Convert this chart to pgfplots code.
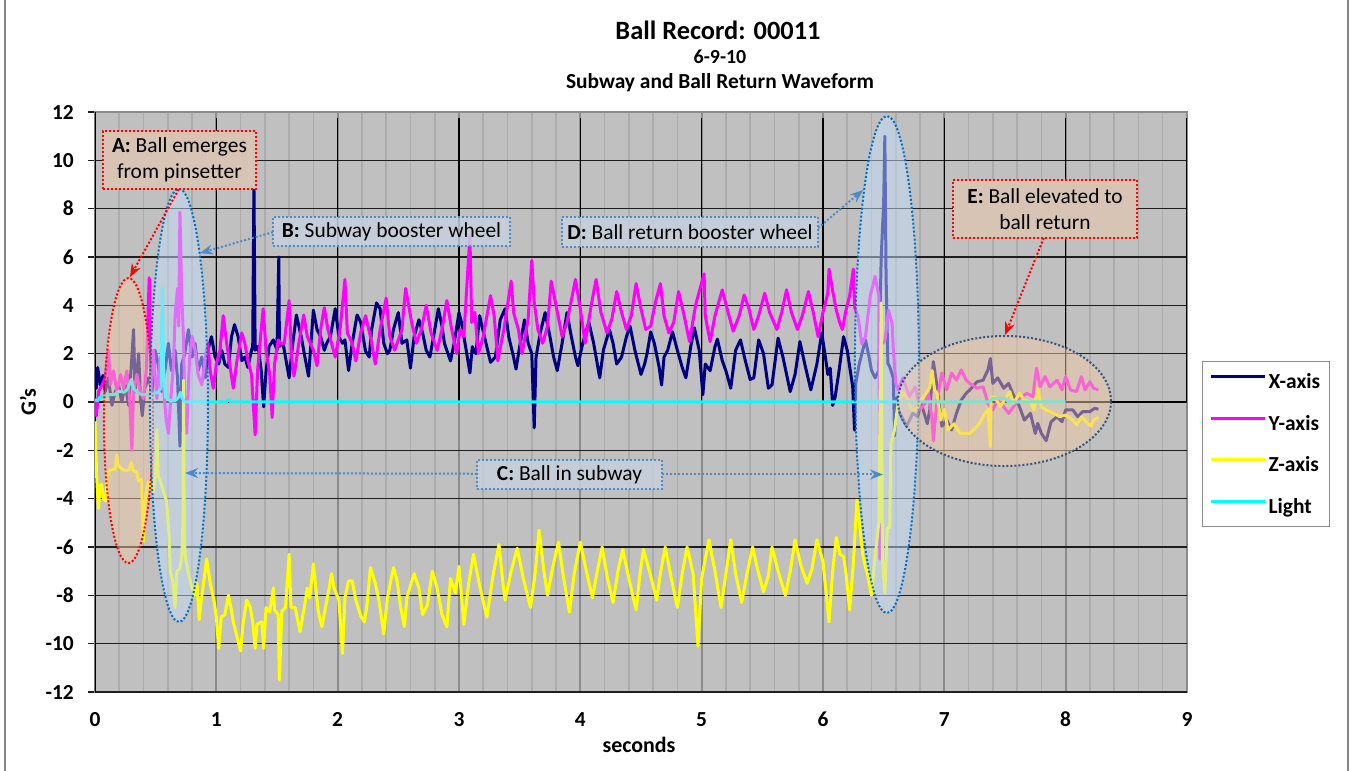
\documentclass[border=0pt]{standalone}
\usepackage{pgfplots}
\pgfplotsset{compat=1.18}
\usepackage{fontspec}
\setmainfont{Carlito}
\usetikzlibrary{arrows.meta}
\definecolor{bggray}{RGB}{192,192,192}
\definecolor{vgrid}{RGB}{140,140,140}
\definecolor{minx}{RGB}{172,172,172}
\definecolor{majy}{RGB}{30,30,30}
\definecolor{xnavy}{RGB}{0,0,128}
\definecolor{ymag}{RGB}{255,0,255}
\definecolor{zyel}{RGB}{255,255,0}
\definecolor{lcyan}{RGB}{0,255,255}
\definecolor{peach}{RGB}{240,200,168}
\definecolor{lblue}{RGB}{196,220,248}
\definecolor{boxpeach}{RGB}{216,196,180}
\definecolor{boxblue}{RGB}{197,208,221}
\definecolor{dotblue}{RGB}{0,112,192}
\definecolor{dotlblue}{RGB}{79,138,200}
\definecolor{dotdark}{RGB}{50,85,130}
\definecolor{framegray}{RGB}{134,134,134}
\tikzset{dotln/.style={line width=2bp, dash pattern=on 2bp off 2bp},
  fnt/.style={font=\fontsize{21.5}{26}\selectfont}}
\begin{document}
\begin{tikzpicture}[x=1bp,y=1bp]
\path[use as bounding box] (-95,-78) rectangle (1256,692);
\draw[framegray, line width=1.5bp] (-90,-80) -- (-90,700);
\draw[framegray, line width=1.5bp] (1253,-80) -- (1253,700);
\begin{axis}[
  at={(0,0)}, anchor=south west,
  scale only axis, width=1092bp, height=580bp,
  xmin=0, xmax=9, ymin=-12, ymax=12,
  axis background/.style={fill=bggray},
  xtick={0,1,...,9}, xticklabels={0,1,2,3,4,5,6,7,8,9},
  minor x tick num=4,
  ytick={-12,-10,...,12}, yticklabels={-12,-10,-8,-6,-4,-2,0,2,4,6,8,10,12},
  xmajorgrids=false, xminorgrids, ymajorgrids=false,
  minor grid style={draw=minx, line width=1.6bp},
  xtick style={draw=none}, minor tick style={draw=none},
  ytick pos=left, ytick align=outside, major tick length=7bp,
  ytick style={draw=majy, line width=1.5bp},
  axis line style={draw=vgrid, line width=2bp},
  ticklabel style={font=\bfseries\fontsize{21.5}{26}\selectfont, inner sep=0bp},
  yticklabel style={anchor=east, xshift=-14bp},
  xticklabel style={anchor=north, yshift=-20bp},
  no markers,
  every axis plot/.append style={line width=3bp, line join=round},
  legend style={at={(1.0137,0.5707)}, anchor=north west, draw=vgrid, line width=1.2bp,
    fill=white, font=\bfseries\fontsize{21.5}{26}\selectfont,
    inner xsep=7bp, inner ysep=10bp, row sep=21bp, cells={anchor=west},
    nodes={inner sep=2bp}},
  legend image code/.code={\draw[#1, line width=3bp] (0bp,5bp) -- (54bp,5bp);},
]
\pgfplotsinvokeforeach{1,2,3,4,5,6,7,8}{\draw[draw=vgrid, line width=2bp] (axis cs:#1,-12) -- (axis cs:#1,12);}
\pgfplotsinvokeforeach{-10,-8,-6,-4,-2,2,4,6,8,10}{\draw[majy, line width=1.6bp] (axis cs:0,#1) -- (axis cs:9,#1);}
\draw[majy, line width=1.6bp] (axis cs:0,-12) -- (axis cs:9,-12);
\draw[black, line width=1.6bp] (axis cs:0,0) -- (axis cs:9,0);
\draw[black, line width=1.8bp] (axis cs:0,-12) -- (axis cs:0,12);
\pgfplotsinvokeforeach{1,2,3,4,5,6,7,8,9}{\draw[black, line width=1.5bp] (axis cs:#1,0) -- ++(0,-6bp);}
% X-axis
\addplot[xnavy] coordinates {
(0,1.3)(0.011,0.57)(0.022,1.43)(0.044,0.7)(0.066,1.1)(0.085,0.43)(0.11,1.0)(0.14,-0.14)(0.167,0.43)(0.195,0.7)
(0.22,0)(0.25,0.7)(0.277,-0.14)(0.304,1.86)(0.318,3.0)(0.33,0.43)(0.36,2.0)(0.375,0.14)(0.39,-0.57)(0.41,0.57)
(0.44,1.0)(0.47,0.43)(0.495,2.14)(0.52,1.57)(0.55,0.43)(0.58,1.43)(0.605,2.43)(0.63,1.29)(0.66,2.14)(0.68,1.0)
(0.70,-1.83)(0.715,1.57)(0.74,2.0)(0.77,3.0)(0.80,1.86)(0.825,2.43)(0.85,1.29)(0.88,1.86)(0.91,1.0)(0.93,2.14)
(0.96,2.7)(0.99,1.86)(1.02,1.57)(1.045,2.14)(1.07,1.57)(1.10,1.43)(1.125,2.7)(1.15,3.2)(1.18,2.7)(1.21,1.71)
(1.235,1.86)(1.26,1.43)(1.29,2.14)(1.30,2.3)(1.31,9.07)(1.32,2.14)(1.345,2.3)(1.37,1.29)(1.39,-0.2)(1.41,1.29)
(1.435,2.3)(1.47,2.57)(1.50,2.14)(1.515,6.0)(1.52,2.3)(1.55,2.43)(1.6,1.0)(1.63,2.43)(1.66,3.6)(1.70,2.7)
(1.73,1.86)(1.76,1.07)(1.78,2.43)(1.80,3.8)(1.83,3.0)(1.86,2.7)(1.89,2.14)(1.91,2.43)(1.94,2.7)(1.98,3.86)
(2.01,2.7)(2.04,2.43)(2.06,2.57)(2.09,1.3)(2.12,2.43)(2.16,3.6)(2.19,3.3)(2.23,2.1)(2.26,1.86)(2.28,3.0)
(2.32,4.1)(2.35,3.86)(2.38,2.43)(2.41,2.0)(2.43,2.14)(2.46,3.0)(2.50,3.7)(2.53,2.43)(2.57,2.57)(2.60,1.4)
(2.63,2.7)(2.67,3.4)(2.70,2.86)(2.73,2.14)(2.76,1.86)(2.79,2.7)(2.83,3.86)(2.86,3.14)(2.88,2.43)(2.93,1.7)
(2.96,2.43)(3.0,3.7)(3.02,3.3)(3.05,2.43)(3.09,1.2)(3.11,2.29)(3.14,2.0)(3.17,3.57)(3.21,2.7)(3.26,1.64)
(3.30,1.86)(3.34,3.4)(3.38,3.86)(3.41,2.7)(3.45,1.86)(3.47,1.36)(3.50,2.29)(3.54,3.4)(3.57,2.43)(3.60,2.0)
(3.62,-1.07)(3.635,1.86)(3.67,2.86)(3.71,3.7)(3.75,2.7)(3.78,1.86)(3.81,1.3)(3.85,2.43)(3.89,3.7)(3.92,2.86)
(3.96,1.86)(3.98,1.5)(4.02,2.43)(4.07,3.3)(4.11,2.43)(4.16,1.0)(4.19,2.14)(4.24,3.0)(4.27,2.43)(4.30,1.57)
(4.34,1.86)(4.38,2.7)(4.41,3.14)(4.45,2.14)(4.50,1.14)(4.53,1.57)(4.55,2.0)(4.58,2.9)(4.61,2.43)(4.65,1.43)
(4.67,0.7)(4.69,1.86)(4.72,2.14)(4.76,2.9)(4.80,2.14)(4.84,1.43)(4.87,1.0)(4.91,2.29)(4.94,3.07)(4.98,2.14)
(5.01,0.3)(5.03,1.57)(5.07,1.29)(5.11,2.29)(5.13,2.6)(5.17,1.71)(5.20,1.29)(5.24,0.57)(5.28,2.14)(5.32,2.57)
(5.36,1.71)(5.40,0.93)(5.43,1.0)(5.47,2.57)(5.51,2.0)(5.55,0.57)(5.58,0.71)(5.63,2.64)(5.67,1.86)(5.73,0.43)
(5.77,1.14)(5.81,2.5)(5.85,1.57)(5.90,0.5)(5.95,1.57)(5.99,2.86)(6.02,1.86)(6.04,1.14)(6.06,1.4)(6.08,-0.14)
(6.10,0.2)(6.13,1.2)(6.17,2.7)(6.20,2.14)(6.22,1.46)(6.245,0.64)(6.26,-1.16)(6.27,0.77)(6.30,1.6)(6.35,2.57)
(6.38,1.86)(6.40,1.3)(6.43,1.0)(6.46,1.3)(6.48,6.0)(6.50,8.2)(6.51,11.0)(6.52,5.2)(6.535,1.6)(6.55,1.46)
(6.58,1.0)(6.59,-1.4)(6.61,0.2)(6.62,-0.33)(6.69,-1.0)(6.74,-0.47)(6.78,-0.6)(6.81,-0.06)(6.86,-0.9)(6.88,-0.33)
(6.91,1.67)(6.94,0.64)(6.98,-1.0)(7.02,-0.75)(7.06,-1.16)(7.10,-0.47)(7.14,0.08)(7.18,0.36)(7.21,0.5)(7.27,0.84)
(7.32,0.9)(7.36,1.33)(7.38,1.8)(7.40,0.77)(7.44,1.0)(7.49,0.57)(7.53,0.77)(7.57,0.29)(7.62,-0.2)(7.66,-0.75)
(7.71,-0.47)(7.75,-1.3)(7.77,-0.88)(7.80,-1.3)(7.84,-1.6)(7.88,-0.82)(7.93,-0.61)(7.97,-0.82)(8.0,-0.33)(8.06,-0.33)
(8.10,-0.61)(8.14,-0.4)(8.2,-0.4)(8.24,-0.26)(8.27,-0.3)};
\addlegendentry{X-axis}
% Y-axis
\addplot[ymag] coordinates {
(0,0.14)(0.011,-0.57)(0.03,0.43)(0.058,0.71)(0.085,1.0)(0.112,2.14)(0.126,0.71)(0.153,1.29)(0.18,0.43)(0.21,1.14)
(0.235,0.57)(0.263,1.29)(0.285,0.14)(0.304,-2.0)(0.318,0.43)(0.345,1.14)(0.372,0.43)(0.40,0.14)(0.422,1.29)(0.447,5.14)
(0.46,0.43)(0.48,2.14)(0.51,0.14)(0.537,1.86)(0.563,0.71)(0.586,-0.7)(0.605,-1.3)(0.625,0.14)(0.647,1.57)(0.66,3.57)
(0.68,4.7)(0.69,3.14)(0.70,7.86)(0.715,4.4)(0.73,2.57)(0.74,-0.43)(0.756,-1.3)(0.77,0.71)(0.78,1.86)(0.80,2.71)
(0.825,2.14)(0.85,1.14)(0.88,0.71)(0.91,1.86)(0.93,2.43)(0.95,1.29)(0.975,0.57)(1.0,1.57)(1.03,2.14)(1.057,3.57)
(1.085,2.43)(1.11,1.57)(1.14,0.57)(1.17,1.71)(1.21,2.86)(1.235,2.43)(1.26,1.71)(1.29,1.14)(1.32,-1.36)(1.34,1.29)
(1.36,2.43)(1.386,3.86)(1.41,2.14)(1.44,1.14)(1.46,-0.64)(1.48,1.57)(1.51,2.57)(1.53,2.43)(1.56,2.43)(1.60,4.2)
(1.62,1.86)(1.64,1.07)(1.68,2.43)(1.72,3.6)(1.75,2.71)(1.80,2.14)(1.83,1.5)(1.86,3.0)(1.89,3.9)(1.92,3.0)
(1.95,2.43)(1.98,1.86)(2.02,3.0)(2.06,5.07)(2.08,2.86)(2.12,2.43)(2.15,1.7)(2.19,2.86)(2.23,3.57)(2.27,2.71)
(2.31,1.57)(2.35,3.0)(2.40,4.3)(2.43,2.71)(2.47,2.14)(2.53,3.0)(2.56,4.7)(2.58,4.14)(2.61,3.29)(2.65,2.43)
(2.69,3.0)(2.73,4.0)(2.77,2.86)(2.82,2.14)(2.86,3.0)(2.90,4.2)(2.94,3.0)(2.98,2.0)(3.01,3.0)(3.04,2.71)
(3.09,6.9)(3.105,3.29)(3.13,3.71)(3.16,2.0)(3.20,2.71)(3.26,4.4)(3.29,3.57)(3.32,1.7)(3.37,3.0)(3.43,5.0)
(3.45,3.71)(3.49,3.0)(3.52,2.0)(3.57,3.43)(3.60,5.86)(3.62,4.14)(3.65,3.0)(3.69,2.43)(3.73,3.14)(3.76,5.0)
(3.80,4.0)(3.85,2.71)(3.89,3.29)(3.96,5.07)(4.0,3.86)(4.04,2.43)(4.09,4.0)(4.13,5.07)(4.17,3.71)(4.22,2.86)
(4.26,3.43)(4.30,4.57)(4.34,3.71)(4.38,3.0)(4.42,3.57)(4.46,4.9)(4.50,3.86)(4.54,3.0)(4.58,3.14)(4.62,4.14)
(4.66,4.9)(4.69,3.57)(4.73,2.86)(4.77,3.29)(4.81,4.57)(4.85,3.71)(4.90,2.5)(4.95,4.0)(4.98,4.57)(5.02,5.3)
(5.03,3.57)(5.07,2.5)(5.11,3.57)(5.17,4.64)(5.21,3.86)(5.26,2.93)(5.31,3.57)(5.35,4.43)(5.39,3.86)(5.43,3.0)
(5.47,3.57)(5.52,4.5)(5.56,3.71)(5.62,3.0)(5.66,3.71)(5.70,4.64)(5.74,3.71)(5.79,3.0)(5.83,3.57)(5.88,4.57)
(5.92,3.71)(5.96,2.7)(6.0,3.71)(6.04,4.5)(6.05,5.5)(6.08,4.6)(6.11,3.8)(6.14,3.25)(6.16,3.0)(6.19,3.8)
(6.22,4.4)(6.25,5.5)(6.26,3.95)(6.29,3.5)(6.32,2.4)(6.35,2.7)(6.39,4.4)(6.43,5.2)(6.46,4.4)(6.47,-6.5)
(6.48,2.4)(6.51,2.5)(6.54,3.8)(6.57,3.25)(6.58,2.14)(6.60,0.77)(6.62,0.5)(6.66,1.0)(6.71,0.22)(6.76,0.64)
(6.80,-0.33)(6.84,-0.06)(6.87,0.36)(6.90,-0.75)(6.91,-1.6)(6.94,0.08)(6.98,1.2)(7.02,0.5)(7.06,1.2)(7.10,0.91)
(7.14,1.33)(7.18,0.91)(7.21,0.77)(7.27,0.57)(7.32,0.63)(7.36,-0.06)(7.40,-0.33)(7.44,0.08)(7.49,-0.2)(7.53,-0.47)
(7.57,-0.2)(7.62,0.15)(7.68,0.36)(7.73,0.22)(7.76,1.4)(7.79,0.63)(7.83,1.05)(7.87,0.63)(7.93,0.9)(7.97,0.5)
(8.0,1.05)(8.04,0.5)(8.09,0.43)(8.13,1.05)(8.16,0.5)(8.20,0.84)(8.23,0.57)(8.27,0.5)};
\addlegendentry{Y-axis}
% Z-axis
\addplot[zyel] coordinates {
(0,-0.8)(0.014,-3.1)(0.022,-3.9)(0.03,-4.4)(0.04,-3.5)(0.055,-3.4)(0.07,-4.0)(0.09,-4.1)(0.10,-3.2)(0.11,-2.85)
(0.14,-2.8)(0.165,-2.8)(0.18,-2.2)(0.19,-2.6)(0.206,-2.7)(0.23,-2.8)(0.25,-2.85)(0.28,-2.8)(0.30,-2.5)(0.316,-2.85)
(0.344,-2.9)(0.358,-3.27)(0.385,-3.2)(0.39,-4.8)(0.40,-5.75)(0.41,-4.5)(0.42,-3.8)(0.44,-3.3)(0.46,-3.4)(0.48,-3.7)
(0.50,-3.0)(0.51,-1.14)(0.52,-3.0)(0.54,-3.3)(0.57,-3.8)(0.59,-4.1)(0.61,-5.5)(0.62,-7.0)(0.64,-7.4)(0.66,-8.5)
(0.675,-7.0)(0.70,-6.9)(0.715,-6.4)(0.725,-5.0)(0.73,0.9)(0.735,-5.5)(0.745,-6.4)(0.77,-7.1)(0.80,-7.7)(0.82,-8.0)
(0.84,-7.5)(0.86,-9.0)(0.875,-8.2)(0.89,-7.7)(0.92,-6.5)(0.935,-7.0)(0.95,-7.5)(0.98,-8.2)(1.0,-8.9)(1.02,-10.2)
(1.04,-8.9)(1.07,-8.8)(1.10,-8.0)(1.12,-8.5)(1.14,-9.1)(1.18,-9.9)(1.20,-10.3)(1.22,-9.2)(1.25,-8.2)(1.28,-8.5)
(1.30,-9.1)(1.32,-10.2)(1.335,-9.2)(1.375,-9.1)(1.39,-10.2)(1.41,-8.5)(1.44,-8.7)(1.47,-7.7)(1.48,-8.6)(1.51,-8.8)
(1.52,-11.5)(1.54,-8.65)(1.57,-8.5)(1.60,-6.3)(1.615,-8.5)(1.65,-8.5)(1.69,-9.5)(1.72,-8.65)(1.75,-7.7)(1.77,-8.1)
(1.80,-6.7)(1.82,-7.7)(1.84,-8.65)(1.87,-9.3)(1.90,-8.5)(1.93,-7.7)(1.95,-7.1)(1.97,-7.7)(2.01,-8.2)(2.04,-10.4)
(2.06,-8.1)(2.09,-7.4)(2.12,-7.4)(2.15,-8.2)(2.19,-8.85)(2.22,-9.1)(2.24,-8.5)(2.27,-6.85)(2.31,-7.5)(2.34,-8.2)
(2.38,-9.6)(2.41,-8.1)(2.46,-6.85)(2.49,-7.4)(2.52,-8.5)(2.55,-9.3)(2.57,-8.1)(2.63,-7.1)(2.67,-7.7)(2.70,-8.8)
(2.74,-8.4)(2.78,-7.0)(2.82,-7.7)(2.86,-8.8)(2.90,-9.3)(2.93,-7.3)(2.97,-7.9)(3.0,-6.8)(3.04,-9.2)(3.08,-7.5)
(3.12,-6.3)(3.17,-7.6)(3.23,-8.9)(3.28,-7.2)(3.33,-5.9)(3.36,-7.4)(3.38,-8.2)(3.43,-7.0)(3.48,-6.05)(3.53,-7.3)
(3.59,-8.5)(3.63,-7.0)(3.66,-5.3)(3.70,-7.0)(3.73,-8.0)(3.77,-6.9)(3.82,-5.8)(3.86,-7.2)(3.91,-8.7)(3.95,-7.1)
(4.0,-5.8)(4.05,-7.0)(4.10,-8.1)(4.14,-7.0)(4.18,-6.0)(4.22,-7.2)(4.27,-8.3)(4.31,-7.0)(4.35,-6.1)(4.40,-7.3)
(4.46,-8.6)(4.49,-7.2)(4.52,-6.1)(4.57,-7.0)(4.63,-8.2)(4.66,-7.1)(4.70,-6.0)(4.75,-7.3)(4.80,-8.5)(4.84,-7.1)
(4.88,-6.0)(4.93,-7.1)(4.97,-10.1)(5.00,-7.3)(5.06,-5.7)(5.11,-7.0)(5.16,-8.5)(5.20,-7.1)(5.24,-5.7)(5.28,-7.1)
(5.33,-8.3)(5.37,-7.2)(5.42,-6.0)(5.46,-6.9)(5.51,-7.85)(5.55,-7.2)(5.58,-6.0)(5.63,-7.0)(5.69,-8.0)(5.73,-7.0)
(5.77,-5.7)(5.82,-6.8)(5.87,-7.5)(5.91,-6.9)(5.95,-5.7)(6.0,-6.6)(6.05,-9.1)(6.08,-7.0)(6.11,-5.6)(6.14,-6.3)
(6.17,-6.4)(6.19,-7.1)(6.22,-8.6)(6.25,-6.7)(6.28,-4.06)(6.30,-5.0)(6.33,-6.4)(6.37,-7.2)(6.40,-8.0)(6.43,-6.4)
(6.46,-5.0)(6.48,4.1)(6.49,-6.5)(6.51,-7.9)(6.53,-5.2)(6.55,-5.2)(6.56,-1.7)(6.59,-1.16)(6.62,0)(6.66,0.4)
(6.69,0.2)(6.73,-0.3)(6.77,-0.33)(6.81,0.1)(6.85,0.36)(6.88,0.6)(6.90,1.3)(6.92,0.5)(6.94,0.36)(6.97,-0.75)
(7.0,-0.3)(7.03,-1.16)(7.08,-0.9)(7.13,-1.3)(7.18,-1.3)(7.21,-1.3)(7.29,-0.9)(7.33,-0.5)(7.36,-0.3)(7.38,-1.85)
(7.385,0.2)(7.42,0.2)(7.46,-0.2)(7.51,0.2)(7.54,0.43)(7.57,-0.06)(7.62,0.36)(7.66,0.08)(7.71,0.0)(7.74,-0.33)
(7.77,0.57)(7.80,-0.2)(7.84,-0.33)(7.90,-0.47)(7.95,-0.6)(8.0,-0.54)(8.06,-0.75)(8.09,-0.95)(8.13,-0.61)(8.17,-0.82)
(8.21,-1.0)(8.23,-0.75)(8.27,-0.63)};
\addlegendentry{Z-axis}
% Light
\addplot[lcyan] coordinates {
(0,0.1)(0.02,0.05)(0.04,0.2)(0.08,0.25)(0.12,0.3)(0.16,0.3)(0.2,0.45)(0.24,0.4)(0.27,0.55)(0.30,0.93)
(0.32,0.55)(0.36,0.35)(0.40,0.3)(0.44,0.3)(0.48,0.35)(0.52,0.4)(0.545,0.6)(0.555,4.7)(0.565,1.5)(0.58,0.2)
(0.62,0.05)(0.66,0.05)(0.69,0.2)(0.705,0.4)(0.72,0.15)(0.74,0)(1.08,0)(1.1,0.1)(1.12,0)(2.0,0)(2.01,0.05)(2.03,0)
(4.0,0)(6.0,0)(7.37,0)(7.40,0.15)(7.50,0.15)(7.53,0)(8.0,0)};
\addlegendentry{Light}
% ellipses
\draw[red, dotln, fill=peach, fill opacity=0.5] (axis cs:0.276,-0.77) ellipse [x radius=24.5bp, y radius=142.5bp];
\draw[dotblue, dotln, fill=lblue, fill opacity=0.5] (axis cs:0.692,-0.14) ellipse [x radius=29bp, y radius=216.5bp];
\draw[dotblue, dotln, fill=lblue, fill opacity=0.5] (axis cs:6.527,1.55) ellipse [x radius=32bp, y radius=248.5bp];
\draw[dotdark, dotln, fill=peach, fill opacity=0.5] (axis cs:7.496,0.04) ellipse [x radius=106.5bp, y radius=65bp];
% arrows
\draw[red, dotln, -{Stealth[length=13bp,width=10bp,fill=red]}] (axis cs:0.69,8.8) -- (axis cs:0.288,5.17);
\draw[dotlblue, dotln, -{Stealth[length=13bp,width=10bp,fill=dotlblue]}] (axis cs:1.467,7.03) -- (axis cs:0.865,6.16);
\draw[dotlblue, dotln, -{Stealth[length=13bp,width=10bp,fill=dotlblue]}] (axis cs:3.148,-2.97) -- (axis cs:0.742,-2.94);
\draw[dotlblue, dotln, -{Stealth[length=13bp,width=10bp,fill=dotlblue]}] (axis cs:4.673,-3.0) -- (axis cs:6.495,-3.0);
\draw[dotlblue, dotln, -{Stealth[length=13bp,width=10bp,fill=dotlblue]}] (axis cs:5.959,7.2) -- (axis cs:6.33,8.77);
\draw[red, dotln, -{Stealth[length=13bp,width=10bp,fill=red]}] (axis cs:7.82,6.79) -- (axis cs:7.50,2.77);
% text boxes
\node[draw=red, dotln, fill=boxpeach, minimum width=153bp, minimum height=58bp, inner sep=0bp, align=center, fnt] at (axis cs:0.696,10.01) {\textbf{A:} Ball emerges\\from pinsetter};
\node[draw=dotlblue, dotln, fill=boxblue, fill opacity=0.85, text opacity=1, minimum width=237bp, minimum height=29bp, inner sep=0bp, fnt] at (axis cs:2.444,7.05) {\textbf{B:} Subway booster wheel};
\node[draw=dotlblue, dotln, fill=boxblue, fill opacity=0.85, text opacity=1, minimum width=185bp, minimum height=29bp, inner sep=0bp, fnt] at (axis cs:3.911,-3.0) {\textbf{C:} Ball in subway};
\node[draw=dotlblue, dotln, fill=boxblue, fill opacity=0.85, text opacity=1, minimum width=256bp, minimum height=30bp, inner sep=0bp, fnt] at (axis cs:4.904,7.03) {\textbf{D:} Ball return booster wheel};
\node[draw=red, dotln, fill=boxpeach, minimum width=184bp, minimum height=58bp, inner sep=0bp, align=center, fnt] at (axis cs:7.830,7.985) {\textbf{E:} Ball elevated to\\ball return};
\end{axis}
\node[font=\bfseries\fontsize{26.5}{30}\selectfont] at (623,662) {Ball Record: 00011};
\node[font=\bfseries\fontsize{20}{24}\selectfont] at (625,635) {6-9-10};
\node[font=\bfseries\fontsize{21.5}{24}\selectfont] at (625,609) {Subway and Ball Return Waveform};
\node[font=\bfseries\fontsize{22}{26}\selectfont, rotate=90] at (-67,290) {G's};
\node[font=\bfseries\fontsize{22}{26}\selectfont] at (544,-53) {seconds};
\end{tikzpicture}
\end{document}
